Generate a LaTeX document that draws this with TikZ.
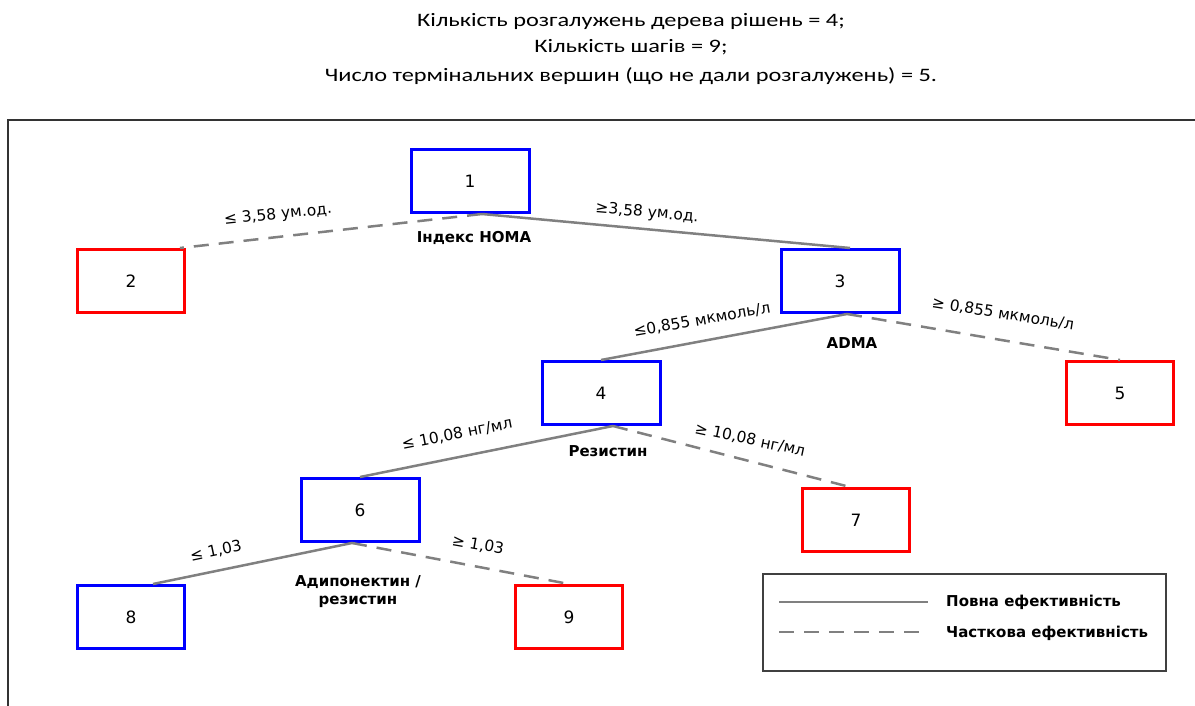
\documentclass[tikz,border=0pt]{standalone}
\usepackage{fontspec}
\setmainfont{DejaVu Sans}
\newfontfamily\titlefont[FakeStretch=1.28]{Carlito}
\usetikzlibrary{calc}

\begin{document}
\begin{tikzpicture}[x=1pt, y=-1pt, auto,swap,
  splitbox/.style={draw=blue, line width=3pt, minimum width=118pt, minimum height=63pt, font=\fontsize{17}{19}\selectfont},
  leafbox/.style={splitbox, minimum width=107pt},
  full/.style={draw=gray, line width=2.5pt},
  part/.style={full, dash pattern=on 15pt off 10pt},
  cond/.style={font=\fontsize{15.5}{17}\selectfont, inner sep=0pt},
  factor/.style={font=\bfseries\fontsize{15}{18}\selectfont, align=center, inner sep=1pt}]

 \useasboundingbox (0,0) rectangle (1195,706);

 %header
 \node[font=\titlefont\fontsize{19}{22}\selectfont] (T1) at (631,22) {Кількість розгалужень дерева рішень = 4;};
 \node[font=\titlefont\fontsize{19}{22}\selectfont] (T2) at (631,47) {Кількість шагів = 9;};
 \node[font=\titlefont\fontsize{19}{22}\selectfont] (T3) at (631,76) {Число термінальних вершин (що не дали розгалужень) = 5.};

 %frame
 \draw[line width=2pt, black!80] (8,706) -- (8,120) -- (1195,120);

 %split vertices
 \foreach \name/\x/\y in {1/470/181, 3/840/281, 4/601/393, 6/360/510} {
         \node[splitbox] (V\name) at (\x,\y) {\name};
 }

 %terminal vertices
 \foreach \name/\x/\y/\col in {2/131/281/red, 5/1120/393/red, 7/856/520/red, 8/131/617/blue, 9/569/617/red} {
         \node[leafbox, draw=\col] (V\name) at (\x,\y) {\name};
 }

 %branches
 \draw[part] ([xshift=12pt]V1.south) -- ([xshift=-6pt]V2.north east);
 \draw[full] ([xshift=12pt]V1.south) -- ([xshift=10pt]V3.north);
 \draw[full] ([xshift=7pt]V3.south) -- (V4.north);
 \draw[part] ([xshift=7pt]V3.south) -- (V5.north);
 \draw[full] ([xshift=12pt]V4.south) -- (V6.north);
 \draw[part] ([xshift=12pt]V4.south) -- ([xshift=-6pt]V7.north);
 \draw[full] ([xshift=-8pt]V6.south) -- ([xshift=22pt]V8.north);
 \draw[part] ([xshift=-8pt]V6.south) -- (V9.north);

 %thresholds
 \node[cond, rotate=6] (C12) at (278,215) {≤ 3,58 ум.од.};
 \node[cond, rotate=-5] (C13) at (647,213) {≥3,58 ум.од.};
 \node[cond, rotate=10] (C34) at (702,320) {≤0,855 мкмоль/л};
 \node[cond, rotate=-9] (C35) at (1003,314) {≥ 0,855 мкмоль/л};
 \node[cond, rotate=11] (C46) at (457,434) {≤ 10,08 нг/мл};
 \node[cond, rotate=-12] (C47) at (750,440) {≥ 10,08 нг/мл};
 \node[cond, rotate=12] (C68) at (216,551) {≤ 1,03};
 \node[cond, rotate=-10] (C69) at (478,545) {≥ 1,03};

 %factors
 \node[factor] (F1) at (474,238) {Індекс НОМА};
 \node[factor] (F3) at (852,343) {ADMA};
 \node[factor] (F4) at (608,451) {Резистин};
 \node[factor] (F6) at (358,592) {Адипонектин /\\резистин};

 %legend
 \draw[line width=2pt, black!75] (763,574) rectangle (1166,671);
 \coordinate (L1a) at (779,602);
 \coordinate (L1b) at (928,602);
 \coordinate (L2a) at (779,632);
 \coordinate (L2b) at (925,632);
 \draw[full] (L1a) -- (L1b);
 \draw[part] (L2a) -- (L2b);
 \node[factor, anchor=west] (LT1) at (945,602) {Повна ефективність};
 \node[factor, anchor=west] (LT2) at (945,633) {Часткова ефективність};

\end{tikzpicture}
\end{document}
